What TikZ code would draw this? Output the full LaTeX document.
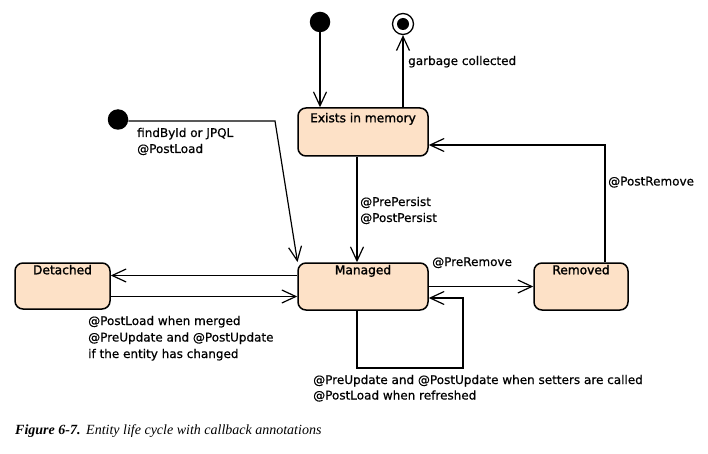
\documentclass[tikz,border=0pt]{standalone}
\usepackage{fontspec}
\newfontfamily\diafont[FakeBold=0.6]{DejaVu Sans}
\newfontfamily\titlefont[FakeBold=1.6]{DejaVu Sans}
\newfontfamily\capfont{Liberation Serif}
\usetikzlibrary{arrows.meta}
\definecolor{peach}{HTML}{FDE1C7}
\begin{document}
\begin{tikzpicture}[x=1pt,y=-1pt,
  state/.style={draw=black,line width=1.5pt,fill=peach,rounded corners=8pt,inner sep=0pt},
  conn/.style={line width=1.2pt,-{Straight Barb[length=14pt,width=13pt,line width=1.2pt]}},
  lbl/.style={font=\diafont\fontsize{12}{14}\selectfont,anchor=base west,inner sep=0pt},
  ttl/.style={font=\titlefont\fontsize{12.2}{14}\selectfont,anchor=base,inner sep=0pt},
  dot/.style={circle,fill=black,inner sep=0pt,minimum size=20.5pt}]
\useasboundingbox (0,0) rectangle (708,454);
\fill[white] (0,0) rectangle (708,454);

% states
\node[state,minimum width=130pt,minimum height=48pt] (exists) at (363,132) {};
\node[state,minimum width=130pt,minimum height=47pt] (managed) at (363,286.5) {};
\node[state,minimum width=95pt,minimum height=46pt] (detached) at (62.5,286) {};
\node[state,minimum width=94pt,minimum height=47pt] (removed) at (581,286.5) {};
\node[ttl] (texists) at ([yshift=-15pt]exists.north) {Exists in memory};
\node[ttl] (tmanaged) at ([yshift=-12pt]managed.north) {Managed};
\node[ttl] (tdetached) at ([yshift=-12pt]detached.north) {Detached};
\node[ttl] (tremoved) at ([yshift=-12pt]removed.north) {Removed};

% pseudo states
\node[dot] (init1) at (320,22) {};
\node[dot] (init2) at (118,119.5) {};
\node[circle,draw=black,line width=1.3pt,fill=white,minimum size=21pt,inner sep=0pt] (final) at (403,24) {};
\node[circle,fill=black,minimum size=12pt,inner sep=0pt] (finalin) at (final) {};

% connectors
\draw[conn] (init1) -- (init1 |- exists.north);
\draw[conn] (exists.north -| final) -- (final.south);
\coordinate (rup) at (605,145);
\draw[conn] (removed.north -| rup) -- (rup) -- (exists.east |- rup);
\coordinate (epx) at (357,0);
\draw[conn] (exists.south -| epx) -- (managed.north -| epx);
\coordinate (fb) at (275,121);
\coordinate (fbend) at (297.5,262);
\draw[conn] (init2.east |- fb) -- (fb) -- (fbend);
\coordinate (dtop) at (0,275.5);
\coordinate (dbot) at (0,296.5);
\draw[conn] (managed.west |- dtop) -- (detached.east |- dtop);
\draw[conn] (detached.east |- dbot) -- (managed.west |- dbot);
\draw[conn] (managed.east) -- (removed.west);
\coordinate (lp1) at (463,368);
\coordinate (lp2) at (463,298);
\draw[conn] (managed.south -| epx) -- (epx |- lp1) -- (lp1) -- (lp2) -- (managed.east |- lp2);

% labels
\node[lbl] (lgc) at (408,65) {garbage collected};
\node[lbl] (lpr) at (608,185.5) {@PostRemove};
\node[lbl] (lpp1) at (360,206) {@PrePersist};
\node[lbl] (lpp2) at (360,222) {@PostPersist};
\node[lbl] (lfb1) at (137,137) {findById or JPQL};
\node[lbl] (lfb2) at (137,153) {@PostLoad};
\node[lbl] (lm1) at (88,325) {@PostLoad when merged};
\node[lbl] (lm2) at (88,341.5) {@PreUpdate and @PostUpdate};
\node[lbl] (lm3) at (88,358) {if the entity has changed};
\node[lbl] (lrm) at (432,266) {@PreRemove};
\node[lbl] (ls1) at (313,384) {@PreUpdate and @PostUpdate when setters are called};
\node[lbl] (ls2) at (313,399.5) {@PostLoad when refreshed};

% caption
\node[anchor=base west,inner sep=0pt,font=\capfont\fontsize{14}{16}\selectfont] (cap1) at (15,434)
  {\textbf{\textit{Figure 6-7.}}};
\node[anchor=base west,inner sep=0pt,font=\capfont\fontsize{14}{16}\selectfont] (cap2) at (86,434)
  {\textit{Entity life cycle with callback annotations}};
\end{tikzpicture}
\end{document}
